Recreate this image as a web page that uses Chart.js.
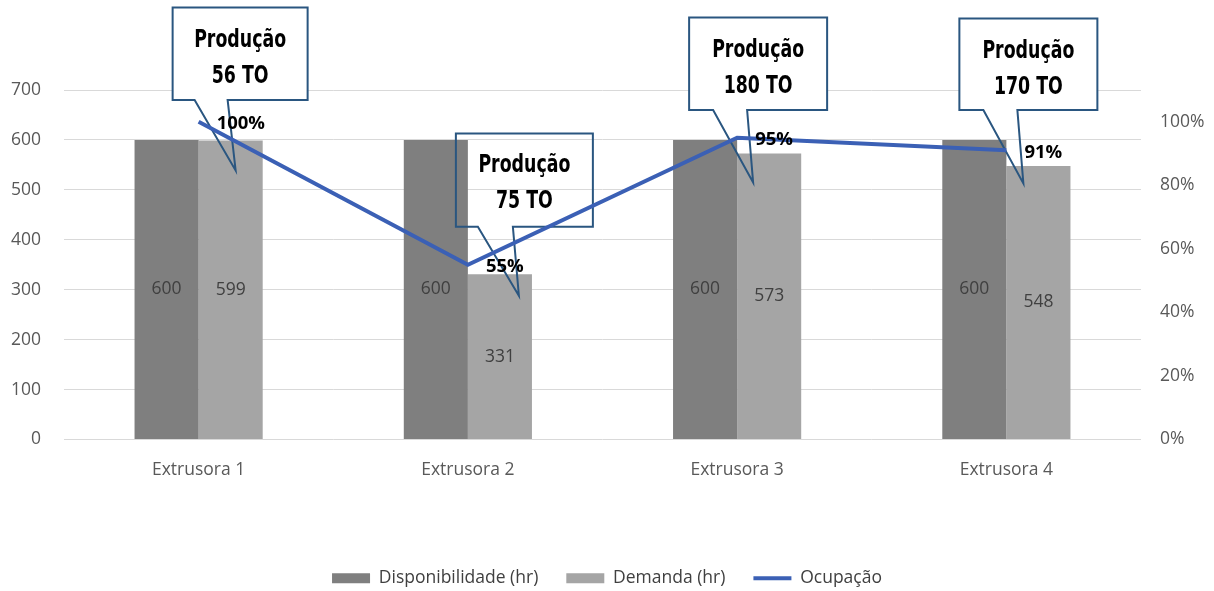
<!DOCTYPE html>
<html>
<head>
<meta charset="utf-8">
<script src="https://cdn.jsdelivr.net/npm/chart.js@4/dist/chart.umd.min.js"></script>
<style>
  html, body { margin: 0; padding: 0; background: #fff; }
  #wrap { width: 1214px; height: 591px; position: relative; }
</style>
</head>
<body>
<div id="wrap"><canvas id="chartExtrusoras"></canvas></div>
<script>
// data
const categories = ["Extrusora 1", "Extrusora 2", "Extrusora 3", "Extrusora 4"]
const disponibilidade = [600, 600, 600, 600]
const demanda = [599, 331, 573, 548]
const ocupacao = [1.00, 0.55, 0.95, 0.91]
const producaoTons = [56, 75, 180, 170]
const leftTicks = [0, 100, 200, 300, 400, 500, 600, 700]
const rightTicks = [0, 0.2, 0.4, 0.6, 0.8, 1.0]

const tickFont = { family: "'Open Sans', sans-serif", size: 17.5 }
const calloutFont = "bold 24px 'Liberation Sans Narrow', 'DejaVu Sans Condensed', sans-serif"

//#region callouts
// placement of each "Produção" box, relative to its category and the left scale
const calloutLayout = [
    { dx: -26, w: 135, top: 865, bottom: 680, baseL: -4, baseR: 29, tipDx: 37, tipV: 539, fill: true },
    { dx: -12, w: 137, top: 613, bottom: 426, baseL: 10, baseR: 45, tipDx: 51, tipV: 288, fill: false },
    { dx: -48, w: 138, top: 845, bottom: 660, baseL: -24, baseR: 10, tipDx: 16, tipV: 515, fill: true },
    { dx: -47, w: 138, top: 843, bottom: 660, baseL: -23, baseR: 11, tipDx: 17, tipV: 513, fill: true }
]

const calloutPlugin = {
    id: "callouts",
    beforeDatasetDraw: (chart, args) => {
        if (args.index !== 2) return
        const ctx = chart.ctx
        const x = chart.scales.x
        const y = chart.scales.y
        ctx.save()
        calloutLayout.forEach((c, i) => {
            const cx = x.getPixelForValue(i)
            const left = cx + c.dx
            const right = left + c.w
            const top = y.getPixelForValue(c.top)
            const bottom = y.getPixelForValue(c.bottom)
            if (c.fill) {
                ctx.fillStyle = "#fff"
                ctx.fillRect(left, top, c.w, bottom - top)
            }
            ctx.beginPath()
            ctx.moveTo(left, top)
            ctx.lineTo(right, top)
            ctx.lineTo(right, bottom)
            ctx.lineTo(cx + c.baseR, bottom)
            ctx.lineTo(cx + c.tipDx, y.getPixelForValue(c.tipV))
            ctx.lineTo(cx + c.baseL, bottom)
            ctx.lineTo(left, bottom)
            ctx.closePath()
            ctx.strokeStyle = "#2a5680"
            ctx.lineWidth = 2
            ctx.stroke()

            ctx.fillStyle = "#000"
            ctx.font = calloutFont
            ctx.textAlign = "center"
            ctx.textBaseline = "alphabetic"
            const mid = (left + right) / 2
            const scaleRatio = 92 / ctx.measureText("Produção").width
            ctx.save()
            ctx.translate(mid, 0)
            ctx.scale(Math.min(1, scaleRatio), 1)
            ctx.fillText("Produção", 0, top + 39)
            ctx.fillText(producaoTons[i] + " TO", 0, top + 75)
            ctx.restore()
        })
        ctx.restore()
    }
}
//#endregion

//#region value labels
const labelPlugin = {
    id: "valueLabels",
    afterLayout: chart => {
        // legend sits a few px lower in the original
        chart.legend.top += 6
        chart.legend.bottom += 6
    },
    afterDatasetsDraw: chart => {
        const ctx = chart.ctx
        ctx.save()
        ctx.font = "17.5px 'Open Sans', sans-serif"
        ctx.fillStyle = "#404040"
        ctx.textAlign = "center"
        ctx.textBaseline = "middle";
        [0, 1].forEach(d => {
            chart.getDatasetMeta(d).data.forEach((bar, i) => {
                const v = chart.data.datasets[d].data[i]
                ctx.fillText(v, bar.x, (bar.y + bar.base) / 2)
            })
        })
        ctx.font = "bold 18.5px 'Open Sans', sans-serif"
        ctx.fillStyle = "#000"
        ctx.textAlign = "left"
        chart.getDatasetMeta(2).data.forEach((pt, i) => {
            ctx.fillText(Math.round(ocupacao[i] * 100) + "%", pt.x + 18, pt.y + 2)
        })
        ctx.restore()
    }
}
//#endregion

//#region ChartJs
CreateChart = canvasId => {
    new Chart(canvasId, {
        data: {
            labels: categories,
            datasets: [
                {
                    type: "bar",
                    label: "Disponibilidade (hr)",
                    data: disponibilidade,
                    backgroundColor: "#7f7f7f",
                    yAxisID: "y",
                    order: 1
                },
                {
                    type: "bar",
                    label: "Demanda (hr)",
                    data: demanda,
                    backgroundColor: "#a5a5a5",
                    yAxisID: "y",
                    order: 1
                },
                {
                    type: "line",
                    label: "Ocupação",
                    data: ocupacao,
                    borderColor: "#3b60b5",
                    backgroundColor: "#3b60b5",
                    borderWidth: 4,
                    pointRadius: 0,
                    tension: 0,
                    yAxisID: "y1",
                    order: 0
                }
            ]
        },
        options: {
            responsive: true,
            maintainAspectRatio: false,
            animation: false,
            layout: { padding: { top: 90, left: 0, right: 0, bottom: 0 } },
            datasets: {
                bar: { categoryPercentage: 0.476, barPercentage: 1.0 }
            },
            plugins: {
                tooltip: { enabled: false },
                legend: {
                    position: "bottom",
                    labels: {
                        usePointStyle: true,
                        pointStyleWidth: 38,
                        boxHeight: 10,
                        padding: 28,
                        color: "#404040",
                        font: { family: "'Open Sans', sans-serif", size: 17.5 },
                        generateLabels: chart =>
                            Chart.defaults.plugins.legend.labels.generateLabels(chart)
                                .sort((a, b) => a.datasetIndex - b.datasetIndex)
                                .map(item => ({
                                    ...item,
                                    pointStyle: item.datasetIndex === 2 ? "line" : "rect",
                                    lineWidth: item.datasetIndex === 2 ? 4 : 0
                                }))
                    }
                }
            },
            scales: {
                x: {
                    grid: { display: false },
                    border: { display: false },
                    ticks: { color: "#595959", font: tickFont, padding: 12 },
                    afterFit: scale => { scale.height = 96 }
                },
                y: {
                    position: "left",
                    min: leftTicks[0],
                    max: leftTicks[leftTicks.length - 1],
                    ticks: { stepSize: 100, color: "#595959", font: tickFont, padding: 23 },
                    grid: { color: "#d9d9d9", lineWidth: 1, drawTicks: false },
                    border: { display: false },
                    afterFit: scale => { scale.width = 64 }
                },
                y1: {
                    position: "right",
                    min: 0,
                    max: 1.1,
                    ticks: {
                        stepSize: 0.2,
                        color: "#595959",
                        font: tickFont,
                        padding: 19,
                        callback: v => rightTicks.some(t => Math.abs(t - v) < 1e-6) ? Math.round(v * 100) + "%" : ""
                    },
                    grid: { display: false, drawTicks: false },
                    border: { display: false },
                    afterFit: scale => { scale.width = 73 }
                }
            }
        },
        plugins: [calloutPlugin, labelPlugin]
    })
}
//#endregion

CreateChart(document.getElementById("chartExtrusoras"))
</script>
</body>
</html>
